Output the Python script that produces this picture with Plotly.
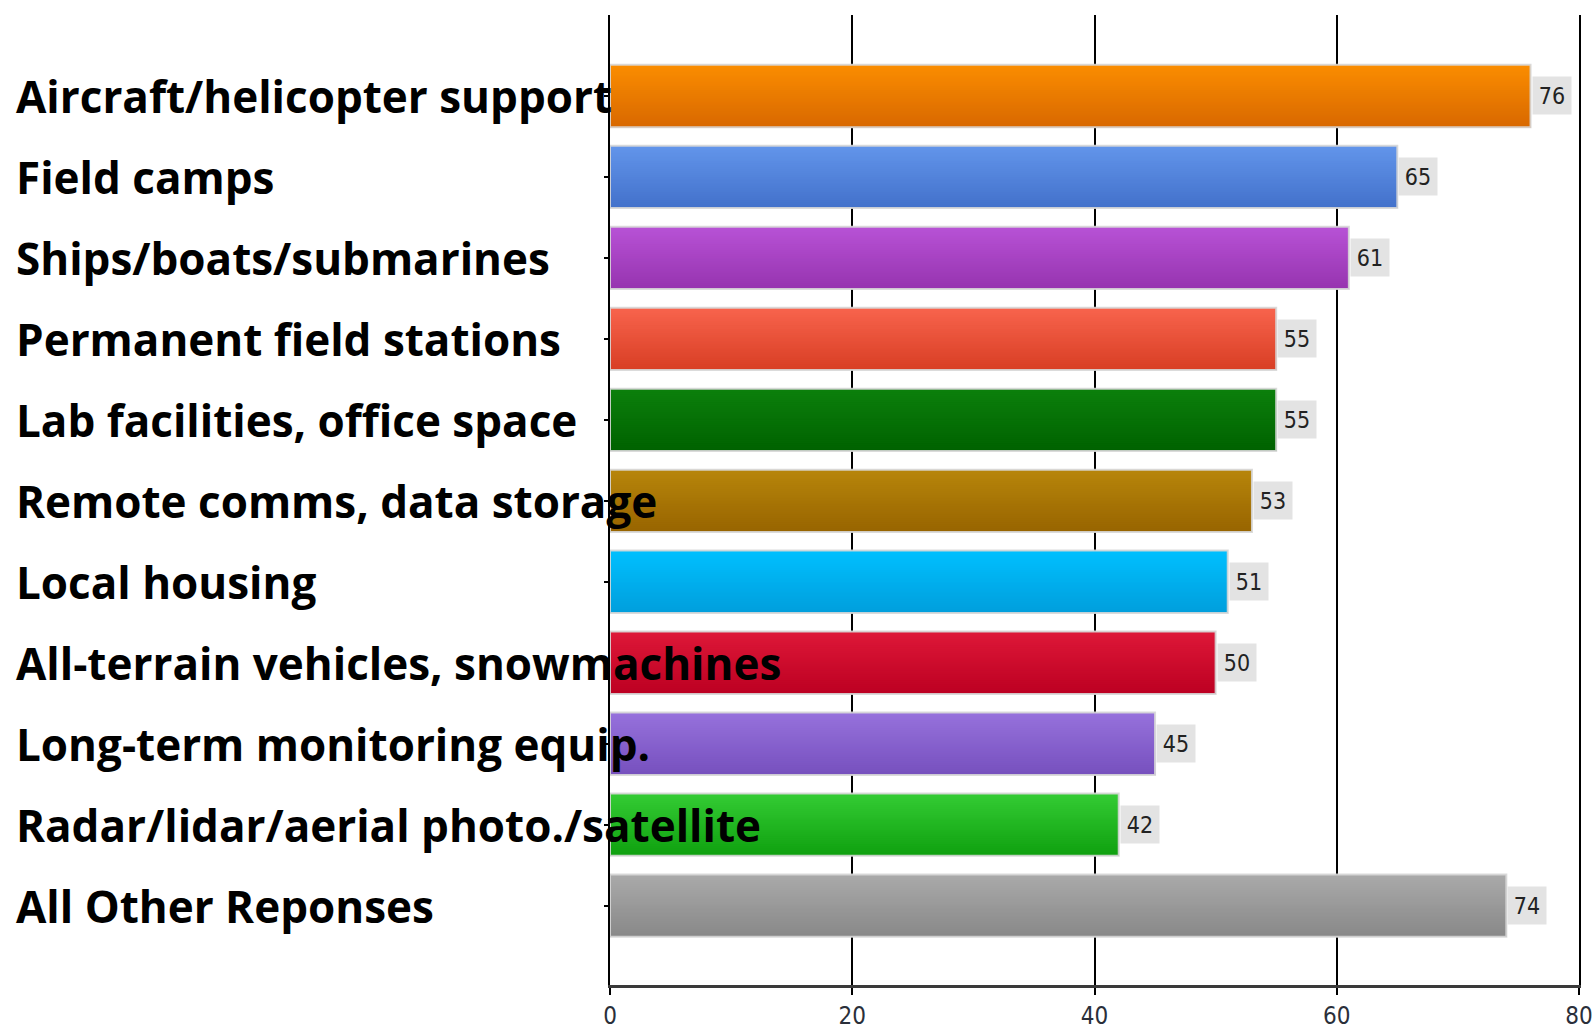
import plotly.graph_objects as go

categories = [
    "Aircraft/helicopter support",
    "Field camps",
    "Ships/boats/submarines",
    "Permanent field stations",
    "Lab facilities, office space",
    "Remote comms, data storage",
    "Local housing",
    "All-terrain vehicles, snowmachines",
    "Long-term monitoring equip.",
    "Radar/lidar/aerial photo./satellite",
    "All Other Reponses",
]
values = [76, 65, 61, 55, 55, 53, 51, 50, 45, 42, 74]
x_ticks = [0, 20, 40, 60, 80]

top_colors = ["#FB8D00", "#6395EA", "#B852D6", "#F8644D", "#0C800C", "#B8860B",
              "#00C0FF", "#DE1838", "#9672DC", "#34CC34", "#AAAAAA"]
bot_colors = ["#D86800", "#4271CB", "#9634AF", "#D83E24", "#006200", "#976400",
              "#009EDC", "#BC0022", "#7750BE", "#0FA00F", "#888888"]


def hex2rgb(h):
    h = h.lstrip("#")
    return tuple(int(h[i:i + 2], 16) for i in (0, 2, 4))


def mix(c1, c2, t):
    a, b = hex2rgb(c1), hex2rgb(c2)
    return "rgb(%d,%d,%d)" % tuple(round(a[i] + (b[i] - a[i]) * t) for i in range(3))


W = 0.77
N = 32
idx = list(range(len(categories)))
NARROW = "DejaVu Sans Condensed, Liberation Sans Narrow, Arial Narrow, sans-serif"

fig = go.Figure()
for k in range(N):
    t = (k + 0.5) / N
    fig.add_trace(go.Bar(
        x=values, y=idx, orientation="h",
        width=[W - k * W / N] * len(values),
        offset=[-W / 2 + k * W / N] * len(values),
        marker=dict(color=[mix(top_colors[i], bot_colors[i], t) for i in idx],
                    line=dict(width=0)),
        hoverinfo="skip", showlegend=False,
    ))
# outline
fig.add_trace(go.Bar(
    x=values, y=idx, orientation="h", width=[W] * len(values),
    marker=dict(color="rgba(0,0,0,0)", line=dict(color="rgba(215,215,215,0.9)", width=2)),
    hoverinfo="skip", showlegend=False,
))

ML, MR, MT, MB = 610, 15, 15, 44
PW = 1594 - ML - MR

annotations = []
for i, (c, v) in enumerate(zip(categories, values)):
    annotations.append(dict(
        x=-(ML - 14) / PW, xref="paper", y=i, yref="y",
        xanchor="left", yanchor="middle", yshift=0,
        text=c, showarrow=False,
        font=dict(family="Open Sans", size=44, color="#000000", weight=700),
    ))
    annotations.append(dict(
        x=v, xref="x", y=i, yref="y", xanchor="left", yanchor="middle",
        xshift=1, text=str(v), showarrow=False, bgcolor="#E3E3E3",
        width=38, height=37, borderpad=0,
        font=dict(family=NARROW, size=23, color="#222222"),
    ))

fig.update_layout(
    width=1594, height=1029,
    margin=dict(l=ML, r=MR, t=MT, b=MB, autoexpand=False),
    paper_bgcolor="white", plot_bgcolor="white",
    barmode="overlay",
    annotations=annotations,
    xaxis=dict(range=[0, 80], tickvals=x_ticks, ticktext=[str(t) for t in x_ticks],
               showgrid=True, gridcolor="#000000", gridwidth=1.5, zeroline=False,
               showline=True, linecolor="#3a3a3a", linewidth=3, automargin=False,
               ticks="outside", ticklen=7, tickcolor="#000000", tickwidth=1.5,
               ticklabeloverflow="allow",
               tickfont=dict(family=NARROW, size=24, color="#2a2f3a")),
    yaxis=dict(range=[10.98, -1.0], tickvals=idx, showticklabels=False,
               showgrid=False, zeroline=False, automargin=False,
               showline=True, linecolor="#000000", linewidth=2, mirror=True,
               ticks="outside", ticklen=4, tickcolor="#000000", tickwidth=1.5),
)

fig.write_html("out.html")
